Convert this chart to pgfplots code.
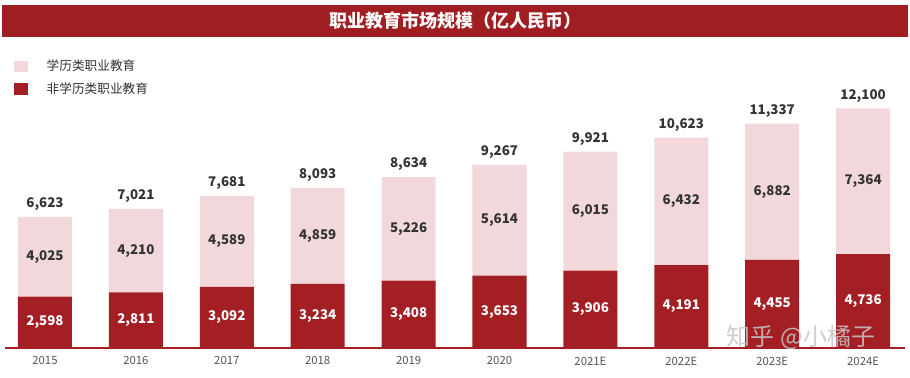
\documentclass[border=0pt]{standalone}
\usepackage{fontspec}
\setmainfont{Noto Sans CJK SC}
\usepackage{pgfplots}
\pgfplotsset{compat=1.18}
\usepackage{pgfplotstable}
\definecolor{darkred}{HTML}{A31F24}
\definecolor{lightpink}{HTML}{F3D8DB}
\definecolor{titlered}{HTML}{A01E22}
\definecolor{txtgray}{HTML}{333333}
\definecolor{tickgray}{HTML}{555555}
\pgfplotstableread{
x dark light total
0 2598 4025 6623
1 2811 4210 7021
2 3092 4589 7681
3 3234 4859 8093
4 3408 5226 8634
5 3653 5614 9267
6 3906 6015 9921
7 4191 6432 10623
8 4455 6882 11337
9 4736 7364 12100
}\datatable
\pgfplotsset{mygeom/.style={
  at={(0pt,22.5pt)}, anchor=south west, scale only axis,
  width=682.5pt, height=261pt,
  xmin=-0.495, xmax=9.516, ymin=0, ymax=17576,
  clip=false,
  /pgf/number format/.cd, fixed, precision=0, 1000 sep={,}, assume math mode=true,
}}
\begin{document}
\begin{tikzpicture}[x=0.75pt,y=0.75pt]
\fill[white] (0,0) rectangle (910,378);
% title bar
\fill[titlered] (2,341) rectangle (908,373);
\node[white,font=\bfseries\fontsize{13.5}{15}\selectfont] at (455,357) {职业教育市场规模（亿人民币）};
% legend
\fill[lightpink] (14,306) rectangle (28,317);
\fill[darkred] (14,283) rectangle (28,295);
\node[anchor=west, text=txtgray, font=\fontsize{9.5}{11}\selectfont] at (42,312) {学历类职业教育};
\node[anchor=west, text=txtgray, font=\fontsize{9.5}{11}\selectfont] at (42,289) {非学历类职业教育};
\begin{axis}[mygeom,
  ybar stacked, bar width=40.5pt,
  hide y axis,
  axis x line*=bottom, axis line style={draw=none},
  xtick={0,...,9},
  xticklabels={2015,2016,2017,2018,2019,2020,2021E,2022E,2023E,2024E},
  major tick length=0pt,
  xticklabel style={text=tickgray, font=\fontsize{8.5}{10}\selectfont, yshift=-3pt},
]
\addplot[fill=darkred, draw=none] table[x=x, y=dark] {\datatable};
\addplot[fill=lightpink, draw=none] table[x=x, y=light] {\datatable};
\end{axis}
\begin{axis}[mygeom, hide axis]
\addplot[draw=none, nodes near coords, point meta=explicit,
  every node near coord/.append style={anchor=center, text=white, font=\bfseries\fontsize{10}{12}\selectfont}]
  table[x=x, y expr=\thisrow{dark}/2, meta=dark] {\datatable};
\addplot[draw=none, nodes near coords, point meta=explicit,
  every node near coord/.append style={anchor=center, text=txtgray, font=\bfseries\fontsize{10}{12}\selectfont}]
  table[x=x, y expr=\thisrow{dark}+\thisrow{light}/2, meta=light] {\datatable};
\addplot[draw=none, nodes near coords, point meta=explicit,
  every node near coord/.append style={anchor=south, yshift=1pt, text=txtgray, font=\bfseries\fontsize{10}{12}\selectfont}]
  table[x=x, y=total, meta=total] {\datatable};
\end{axis}
\draw[darkred, line width=0.9pt] (5,30) -- (905,30);
% watermark
\node[text=gray!45, opacity=0.85, font=\fontsize{18}{20}\selectfont] at (801,41) {知乎 @小橘子};
\end{tikzpicture}
\end{document}
